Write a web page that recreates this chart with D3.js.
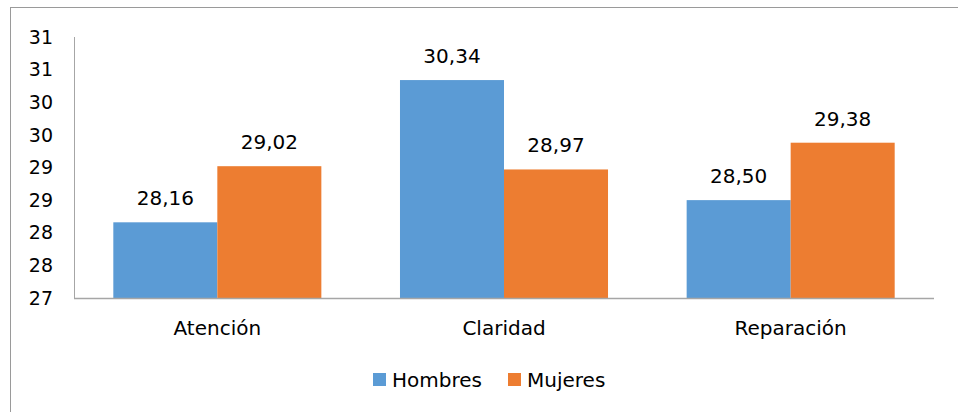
<!DOCTYPE html>
<html>
<head>
<meta charset="utf-8">
<script src="https://cdn.jsdelivr.net/npm/d3@7"></script>
<style>
  body { margin: 0; background: #fff; }
  text { font-family: "DejaVu Sans", sans-serif; fill: #000; }
</style>
</head>
<body>
<svg id="chart" width="958" height="412"></svg>
<script>
// chart data
const categories = ["Atención", "Claridad", "Reparación"];
const series = ["Hombres", "Mujeres"];
const hombres = [28.16, 30.34, 28.50];
const mujeres = [29.02, 28.97, 29.38];
const yTicks = [27, 27.5, 28, 28.5, 29, 29.5, 30, 30.5, 31];
const yTickLabels = ["27", "28", "28", "29", "29", "30", "30", "31", "31"];
const colors = ["#5B9BD5", "#ED7D31"];

const values = [hombres, mujeres];

const svg = d3.select("#chart");

// outer frame
svg.append("rect")
    .attr("x", 10.5).attr("y", 7.5)
    .attr("width", 960).attr("height", 420)
    .attr("fill", "none")
    .attr("stroke", "#9a9a9a");

var margin = {top: 37, left: 74, right: 24, bottom: 114},
    width = 958 - margin.left - margin.right,
    height = 412 - margin.top - margin.bottom;

const g = svg.append("g")
    .attr("transform", "translate(" + margin.left + "," + margin.top + ")");

var x0 = d3.scaleBand()
    .domain(categories)
    .range([0, width])
    .padding(0);

var x1 = d3.scaleBand()
    .domain(series)
    .range([0, x0.bandwidth()])
    .paddingInner(0)
    .paddingOuter(0.378);

var y = d3.scaleLinear()
    .domain([27, 31])
    .range([height, 0]);

const fs = "20px";

// bars
series.forEach((s, si) => {
  g.selectAll(".bar-" + si)
      .data(categories)
    .enter().append("rect")
      .attr("x", d => x0(d) + x1(s))
      .attr("width", x1.bandwidth())
      .attr("y", (d, i) => y(values[si][i]))
      .attr("height", (d, i) => height - y(values[si][i]))
      .attr("fill", colors[si]);

  g.selectAll(".lbl-" + si)
      .data(categories)
    .enter().append("text")
      .attr("x", d => x0(d) + x1(s) + x1.bandwidth() / 2)
      .attr("y", (d, i) => y(values[si][i]) - 24)
      .attr("dy", "0.35em")
      .attr("text-anchor", "middle")
      .style("font-size", fs)
      .text((d, i) => values[si][i].toFixed(2).replace(".", ","));
});

// y axis
g.append("line")
    .attr("x1", 0.5).attr("x2", 0.5)
    .attr("y1", 0).attr("y2", height)
    .attr("stroke", "#a6a6a6");

g.selectAll(".ytick")
    .data(yTicks)
  .enter().append("text")
    .attr("x", -21)
    .attr("y", d => y(d))
    .attr("dy", "0.35em")
    .attr("text-anchor", "end")
    .style("font-size", "19px")
    .text((d, i) => yTickLabels[i]);

// x axis
g.append("line")
    .attr("x1", 0).attr("x2", width)
    .attr("y1", height + 0.5).attr("y2", height + 0.5)
    .attr("stroke", "#a6a6a6")
    .attr("stroke-width", 1.5);

g.selectAll(".xlabel")
    .data(categories)
  .enter().append("text")
    .attr("x", d => x0(d) + x0.bandwidth() / 2)
    .attr("y", height + 30)
    .attr("dy", "0.35em")
    .attr("text-anchor", "middle")
    .style("font-size", fs)
    .text(d => d);

// legend
const legend = svg.append("g").attr("transform", "translate(373,380)");
const legendX = [0, 135];
series.forEach((s, i) => {
  legend.append("rect")
      .attr("x", legendX[i]).attr("y", -7)
      .attr("width", 13).attr("height", 13)
      .attr("fill", colors[i]);
  legend.append("text")
      .attr("x", legendX[i] + 19).attr("y", 0)
      .attr("dy", "0.35em")
      .style("font-size", fs)
      .text(s);
});
</script>
</body>
</html>
